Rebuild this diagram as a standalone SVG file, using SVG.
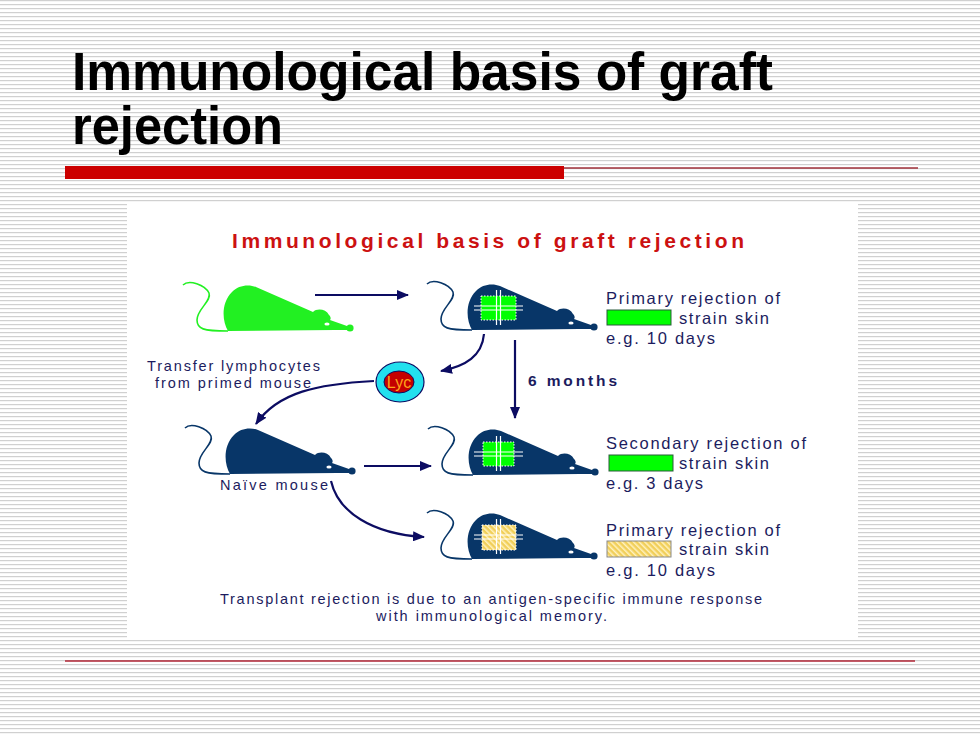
<svg xmlns="http://www.w3.org/2000/svg" xmlns:xlink="http://www.w3.org/1999/xlink" width="980" height="735" viewBox="0 0 980 735">
<style>
.t{font-family:"Liberation Sans",Arial,sans-serif;fill:#1c1c5e}
.title{font-family:"Liberation Sans",Arial,sans-serif;font-weight:bold;font-size:54px;fill:#000}
.conn{fill:none;stroke:#0c0c62;stroke-width:2.2}
.graft-st{stroke:#fff;stroke-width:1.2}
</style>
<defs>
<pattern id="stripes" width="8" height="4" patternUnits="userSpaceOnUse">
<rect width="8" height="4" fill="#ffffff"/>
<rect width="8" height="1.2" fill="#d0d0d0"/>
</pattern>
<pattern id="hatch" width="4" height="4" patternUnits="userSpaceOnUse" patternTransform="rotate(-45)">
<rect width="4" height="4" fill="#f1cf5a"/>
<rect width="1.5" height="4" fill="#fff2bf"/>
</pattern>
<marker id="ah" viewBox="0 0 12 10" refX="11" refY="5" markerWidth="12" markerHeight="10" markerUnits="userSpaceOnUse" orient="auto">
<path d="M0,0 L12,5 L0,10 Z" fill="#0c0c62"/>
</marker>
<g id="mouse">
<path d="M-42,-46 C-36,-52 -20,-46 -16,-38 C-13,-30 -28,-22 -28,-11 C-28,-2 -22,0 3,0" fill="none" stroke="currentColor" stroke-width="1.6"/>
<path d="M3,0 C-3,-10 -4,-28 7,-39 C13,-46 24,-47 31,-44 L88,-19 C92,-23 101,-22 104,-16 C106,-14 106,-12 105,-11 L122,-5 L124,-1 L110,-1 Z" fill="currentColor"/>
<circle cx="125" cy="-3" r="3.6" fill="currentColor"/>
<ellipse cx="102" cy="-7" rx="2.6" ry="1.6" fill="#fff"/>
</g>
<g id="stitch">
<line x1="27.5" y1="-40" x2="27.5" y2="-5" class="graft-st"/>
<line x1="31.5" y1="-40" x2="31.5" y2="-5" class="graft-st"/>
<line x1="5" y1="-24" x2="54" y2="-24" class="graft-st"/>
<line x1="5" y1="-20" x2="54" y2="-20" class="graft-st"/>
</g>
</defs>

<rect width="980" height="735" fill="url(#stripes)"/>

<g id="page-title">
<text class="title" x="72" y="90" textLength="701" lengthAdjust="spacingAndGlyphs">Immunological basis of graft</text>
<text class="title" x="72" y="144" textLength="211" lengthAdjust="spacingAndGlyphs">rejection</text>
<rect x="65" y="166" width="499" height="13" fill="#cc0000"/>
<line x1="564" y1="168" x2="918" y2="168" stroke="#a0303a" stroke-width="1.5"/>
</g>

<rect id="panel" x="127" y="203" width="731" height="437" fill="#ffffff"/>

<text id="diagram-title" x="232" y="248" textLength="512" font-family="Liberation Sans, Arial, sans-serif" font-weight="bold" font-size="21" fill="#cc1111">Immunological basis of graft rejection</text>

<g id="connectors">
<line class="conn" x1="315" y1="295" x2="408" y2="295" marker-end="url(#ah)"/>
<path class="conn" d="M484,334 C482,356 466,366 441,371" marker-end="url(#ah)"/>
<line class="conn" x1="515" y1="340" x2="515" y2="418" marker-end="url(#ah)"/>
<path class="conn" d="M374,381 C318,384 278,392 256,424" marker-end="url(#ah)"/>
<line class="conn" x1="364" y1="466" x2="431" y2="466" marker-end="url(#ah)"/>
<path class="conn" d="M331,481 C338,512 372,534 424,537" marker-end="url(#ah)"/>
</g>

<g id="donor-mouse">
<use href="#mouse" x="225" y="331" style="color:#22f022"/>
</g>

<g id="primary-graft-mouse">
<use href="#mouse" x="469" y="330" style="color:#083668"/>
<rect x="481" y="296" width="35" height="24" fill="#00ff00" stroke="#fff" stroke-width="1" stroke-dasharray="1.5,1.5"/>
<use href="#stitch" x="469" y="330"/>
<text class="t" x="606" y="304" font-size="16.5" textLength="174">Primary rejection of</text>
<rect x="607" y="310" width="64" height="15" fill="#00ff00" stroke="#2a5a3a" stroke-width="1"/>
<text class="t" x="679" y="324" font-size="16.5" textLength="90">strain skin</text>
<text class="t" x="606" y="344" font-size="16.5" textLength="109">e.g. 10 days</text>
</g>

<g id="transfer-label">
<text class="t" x="147" y="371" font-size="14.5" textLength="173">Transfer lymphocytes</text>
<text class="t" x="155" y="388" font-size="14.5" textLength="156">from primed mouse</text>
</g>

<g id="lyc">
<ellipse cx="400" cy="382" rx="24" ry="20" fill="#22e0ee" stroke="#0c0c62" stroke-width="1.2"/>
<ellipse cx="399" cy="382" rx="15" ry="11" fill="#c40000" stroke="#0c0c62" stroke-width="1"/>
<text x="399" y="388" text-anchor="middle" font-family="Liberation Sans, Arial, sans-serif" font-size="16" fill="#ffa31a">Lyc</text>
</g>

<g id="six-months">
<text class="t" x="528" y="386" font-size="15.5" font-weight="bold" textLength="89">6 months</text>
</g>

<g id="naive-mouse">
<use href="#mouse" x="227" y="474" style="color:#083668"/>
<text class="t" x="220" y="490" font-size="14.5" textLength="108">Naïve mouse</text>
</g>

<g id="secondary-graft-mouse">
<use href="#mouse" x="470" y="475" style="color:#083668"/>
<rect x="483" y="442" width="31" height="24" fill="#00ff00" stroke="#fff" stroke-width="1" stroke-dasharray="1.5,1.5"/>
<use href="#stitch" x="469" y="476"/>
<text class="t" x="606" y="449" font-size="16.5" textLength="200">Secondary rejection of</text>
<rect x="609" y="455" width="64" height="16" fill="#00ff00" stroke="#2a5a3a" stroke-width="1"/>
<text class="t" x="679" y="469" font-size="16.5" textLength="90">strain skin</text>
<text class="t" x="606" y="489" font-size="16.5" textLength="97">e.g. 3 days</text>
</g>

<g id="third-party-mouse">
<use href="#mouse" x="469" y="559" style="color:#083668"/>
<rect x="482" y="525" width="34" height="25" fill="url(#hatch)" stroke="#fff" stroke-width="1" stroke-dasharray="1.5,1.5"/>
<use href="#stitch" x="469" y="559"/>
<text class="t" x="606" y="536" font-size="16.5" textLength="174">Primary rejection of</text>
<rect x="607" y="541" width="64" height="16" fill="url(#hatch)" stroke="#8a8a8a" stroke-width="1"/>
<text class="t" x="679" y="555" font-size="16.5" textLength="90">strain skin</text>
<text class="t" x="606" y="576" font-size="16.5" textLength="109">e.g. 10 days</text>
</g>

<g id="footer-text">
<text class="t" x="220" y="604" font-size="14.5" textLength="542">Transplant rejection is due to an antigen-specific immune response</text>
<text class="t" x="376" y="621" font-size="14.5" textLength="231">with immunological memory.</text>
</g>

<line id="bottom-rule" x1="65" y1="661" x2="915" y2="661" stroke="#b02535" stroke-width="1.5"/>
</svg>
